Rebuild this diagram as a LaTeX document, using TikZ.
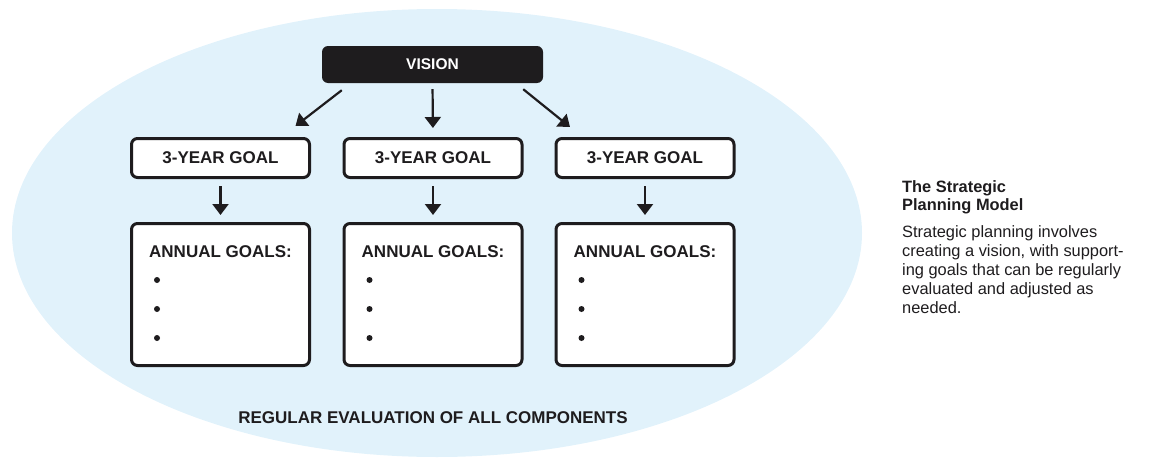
\documentclass[tikz,border=0pt]{standalone}
\usepackage{fontspec}
\setmainfont{Liberation Sans}
\usetikzlibrary{arrows.meta,positioning,shapes.geometric}
\definecolor{evalblue}{RGB}{225,242,251}
\definecolor{inkblack}{RGB}{30,28,30}

\tikzset{
  boldtxt/.style={font=\bfseries\fontsize{17}{20}\selectfont, text=inkblack},
  visionbox/.style={fill=inkblack, rounded corners=6pt, minimum width=221pt, minimum height=37pt,
    text=white, font=\bfseries\fontsize{15.5}{18}\selectfont},
  goalbox/.style={boldtxt, draw=inkblack, line width=3pt, rounded corners=6pt, fill=white,
    minimum width=178pt, minimum height=39pt},
  annualbox/.style={draw=inkblack, line width=3pt, rounded corners=6pt, fill=white,
    minimum width=178pt, minimum height=142pt},
  arr/.style={draw=inkblack, line width=2.2pt, -{Triangle[width=16pt,length=11pt]}},
}

\begin{document}
\begin{tikzpicture}[x=1pt,y=-1pt]
\useasboundingbox (0,0) rectangle (1160,471);
% evaluation field
\fill[evalblue] (437,233) ellipse [x radius=425, y radius=224];
\node[visionbox] (vision) at (432.5,64.5) {VISION};
\foreach \i/\x in {1/220.5,2/433,3/645}{
  \node[goalbox] (goal\i) at (\x,158) {3-YEAR GOAL};
  \node[annualbox] (annual\i) at (\x,294.5) {};
  \node[boldtxt, anchor=west, inner sep=0] (head\i) at (\x-71.5,252) {ANNUAL GOALS:};
  \foreach \y in {280,309,338}
    \fill[inkblack] (\x-63.5,\y) circle (3pt);
  \draw[arr, shorten <=7pt, shorten >=7pt] (goal\i) -- (annual\i);
}
% vision to goals
\draw[arr] ([xshift=20pt,yshift=-7pt]vision.south west) -- ([xshift=75pt,yshift=11pt]goal1.north);
\draw[arr, shorten <=6pt, shorten >=9pt] (vision.south) -- (goal2.north);
\draw[arr] ([xshift=-20pt,yshift=-6pt]vision.south east) -- ([xshift=-75pt,yshift=10pt]goal3.north);
\node[boldtxt] (evaluation) at (433,418) {REGULAR EVALUATION OF ALL COMPONENTS};
% caption
\node[anchor=north west, inner sep=0, align=left, text=inkblack,
  font=\bfseries\fontsize{16.4}{18}\selectfont] (title) at (902,180) {The Strategic\\Planning Model};
\node[anchor=north west, inner sep=0, align=left, text=inkblack,
  font=\fontsize{16.4}{19}\selectfont] (body) at (902,225)
  {Strategic planning involves\\creating a vision, with support-\\ing goals that can be regularly\\evaluated and adjusted as\\needed.};
\end{tikzpicture}
\end{document}
